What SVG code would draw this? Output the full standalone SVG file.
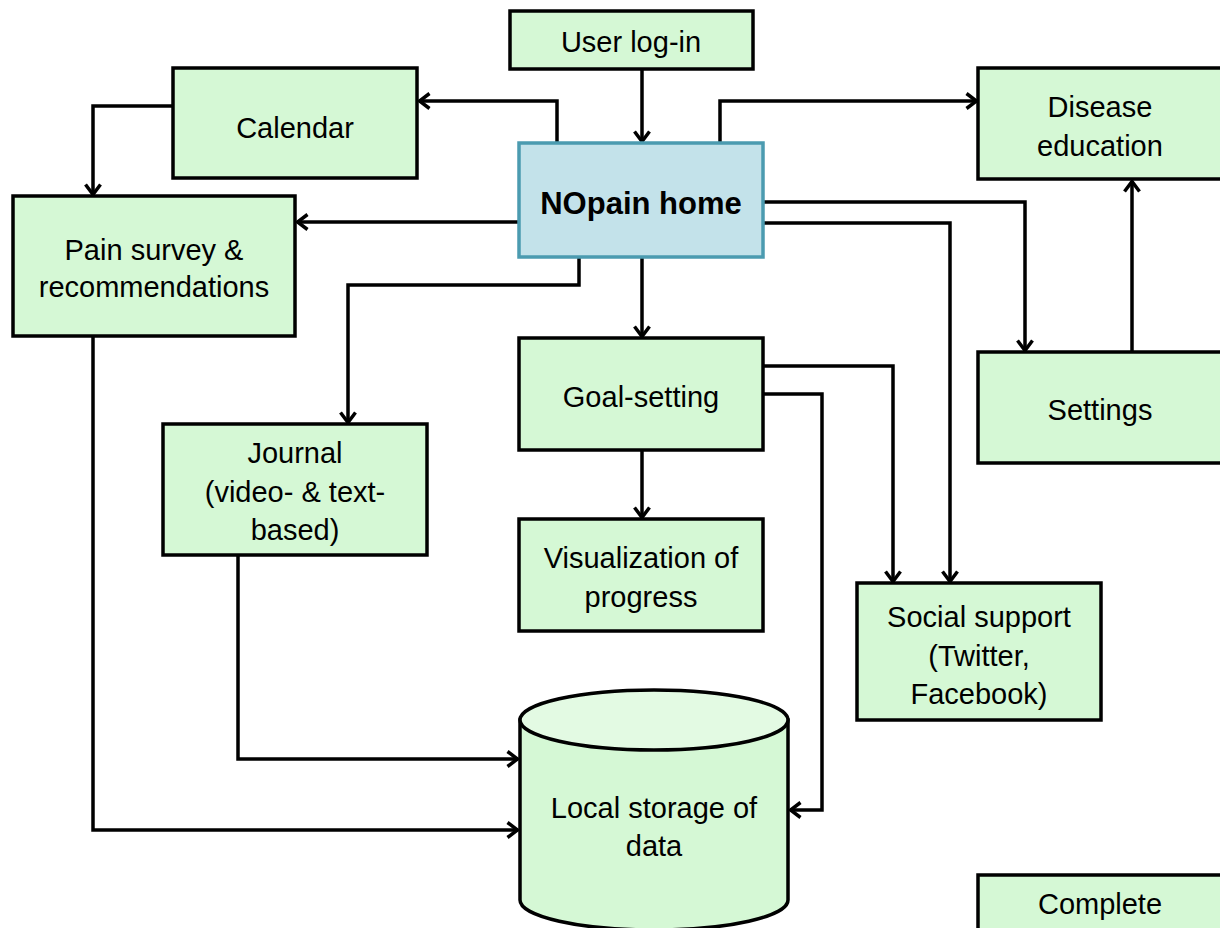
<svg xmlns="http://www.w3.org/2000/svg" width="1220" height="928" viewBox="0 0 1220 928">
<style>
.box{fill:#d5f8d5;stroke:#000;stroke-width:3.5}
.home{fill:#c3e2ea;stroke:#4b9bb0;stroke-width:3.5}
.t{font-family:"Liberation Sans",Arial,sans-serif;font-size:29px;fill:#000;text-anchor:middle}
.b{font-weight:bold;font-size:31px}
.c{fill:none;stroke:#000;stroke-width:3.5;marker-end:url(#arr)}
</style>
<defs>
<marker id="arr" viewBox="0 0 14 18" refX="12.5" refY="9" markerWidth="14" markerHeight="18" markerUnits="userSpaceOnUse" orient="auto">
<path d="M2,1.5 L12,9 L2,16.5" fill="none" stroke="#000" stroke-width="3.5" stroke-linejoin="miter"/>
</marker>
</defs>
<rect width="1220" height="928" fill="#fff"/>
<g id="connectors">
<path class="c" d="M642,69 V142"/>
<path class="c" d="M557,143 V101 H419"/>
<path class="c" d="M173,106 H93 V195"/>
<path class="c" d="M519,222 H297"/>
<path class="c" d="M720,143 V101 H977"/>
<path class="c" d="M763,202 H1025 V351"/>
<path class="c" d="M763,223 H950 V582"/>
<path class="c" d="M1132,352 V181"/>
<path class="c" d="M642,257 V337"/>
<path class="c" d="M579,257 V285 H348 V423"/>
<path class="c" d="M642,450 V518"/>
<path class="c" d="M763,366 H893 V582"/>
<path class="c" d="M763,394 H822 V810 H790"/>
<path class="c" d="M238,555 V759 H518"/>
<path class="c" d="M93,336 V830 H518"/>
</g>
<g id="login"><rect class="box" x="510" y="11" width="243" height="58"/><text class="t" x="631" y="52">User log-in</text></g>
<g id="calendar"><rect class="box" x="173" y="68" width="244" height="110"/><text class="t" x="295" y="138">Calendar</text></g>
<g id="home"><rect class="home" x="519" y="143" width="244" height="114"/><text class="t b" x="641" y="214">NOpain home</text></g>
<g id="disease"><rect class="box" x="978" y="68" width="244" height="111"/><text class="t" x="1100" y="117">Disease</text><text class="t" x="1100" y="156">education</text></g>
<g id="pain"><rect class="box" x="13" y="196" width="282" height="140"/><text class="t" x="154" y="260">Pain survey &amp;</text><text class="t" x="154" y="297">recommendations</text></g>
<g id="goal"><rect class="box" x="519" y="338" width="244" height="112"/><text class="t" x="641" y="407">Goal-setting</text></g>
<g id="settings"><rect class="box" x="978" y="352" width="244" height="111"/><text class="t" x="1100" y="420">Settings</text></g>
<g id="journal"><rect class="box" x="163" y="424" width="264" height="131"/><text class="t" x="295" y="463">Journal</text><text class="t" x="295" y="502">(video- &amp; text-</text><text class="t" x="295" y="540">based)</text></g>
<g id="visualization"><rect class="box" x="519" y="519" width="244" height="112"/><text class="t" x="641" y="568">Visualization of</text><text class="t" x="641" y="607">progress</text></g>
<g id="social"><rect class="box" x="857" y="583" width="244" height="137"/><text class="t" x="979" y="627">Social support</text><text class="t" x="979" y="666">(Twitter,</text><text class="t" x="979" y="704">Facebook)</text></g>
<g id="storage">
<path d="M520,720 V900 A134,30 0 0 0 788,900 V720 Z" fill="#d5f8d5" stroke="#000" stroke-width="3.5"/>
<ellipse cx="654" cy="720" rx="134" ry="30" fill="#e3fae3" stroke="#000" stroke-width="3.5"/>
<text class="t" x="654" y="818">Local storage of</text><text class="t" x="654" y="856">data</text>
</g>
<g id="complete"><rect class="box" x="978" y="875" width="244" height="60"/><text class="t" x="1100" y="914">Complete</text></g>
</svg>
